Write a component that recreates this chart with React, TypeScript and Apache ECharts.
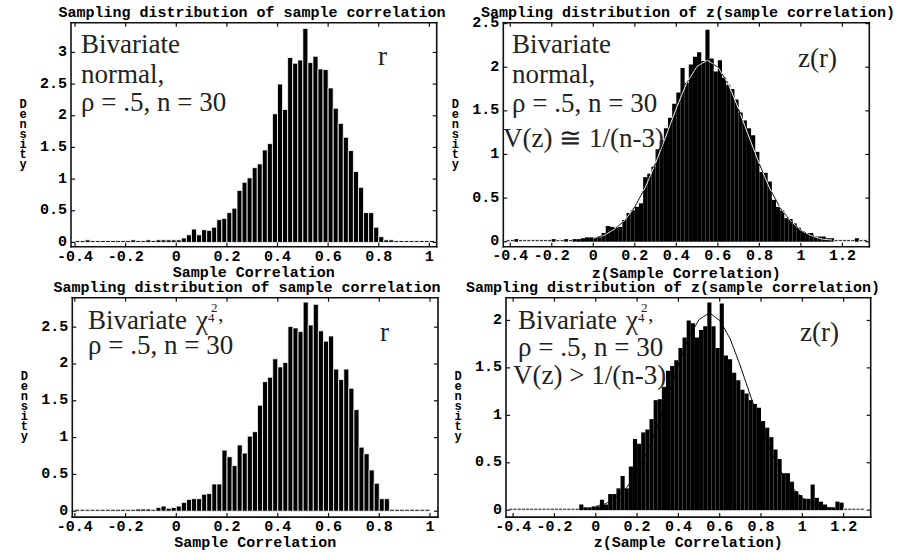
import React, { useEffect, useRef } from 'react';
import * as echarts from 'echarts';

// ---------- data (densities per bin of width 0.02) ----------
const BIN = 0.02;

// Panel 1: bivariate normal, r
const p1Start = -0.4;
const p1Density = [
  0.02, 0.0, 0.04, 0.02, 0.02, 0.02, 0.02, 0.02, 0.02, 0.02, 0.02, 0.04, 0.02, 0.02, 0.04,
  0.02, 0.04, 0.04, 0.04, 0.04, 0.04, 0.07, 0.12, 0.21, 0.12, 0.2, 0.19, 0.24, 0.36, 0.38, 0.47,
  0.54, 0.82, 0.95, 1.02, 1.18, 1.24, 1.46, 1.56, 2.03, 2.5, 2.1, 2.92, 2.83, 2.88, 3.38, 2.84,
  2.94, 2.74, 2.73, 2.44, 2.12, 1.88, 1.66, 1.45, 1.12, 0.87, 0.47, 0.47, 0.24, 0.09, 0.04, 0.04,
  0, 0, 0, 0, 0, 0, 0, 0,
];

// Panel 2: bivariate normal, z(r)
const p2Start = -0.42;
const p2Density = [
  0.01, 0.02, 0.03, 0.01, 0.01, 0.01, 0.01, 0.01, 0.01, 0.01, 0.01, 0.03, 0.01, 0.01, 0.03,
  0.02, 0.03, 0.03, 0.04, 0.05, 0.05, 0.05, 0.05, 0.1, 0.18, 0.17, 0.16, 0.17, 0.25, 0.33, 0.36,
  0.4, 0.44, 0.74, 0.78, 0.86, 1.06, 1.16, 1.3, 1.42, 1.58, 1.71, 1.99, 1.82, 2.03, 2.12, 2.17,
  2.07, 2.43, 2.1, 1.95, 2.08, 1.88, 1.8, 1.75, 1.63, 1.48, 1.39, 1.3, 1.22, 1.03, 0.8, 0.79,
  0.69, 0.48, 0.4, 0.36, 0.27, 0.26, 0.21, 0.16, 0.12, 0.1, 0.1, 0.06, 0.06, 0.06, 0.04, 0.04,
  0.02, 0.02, 0.02, 0.02, 0.01, 0.04, 0, 0,
];

// Panel 3: bivariate chi-square(4), r
const p3Start = -0.4;
const p3Density = [
  0, 0, 0, 0, 0, 0, 0, 0, 0, 0, 0, 0, 0.03, 0.03,
  0.03, 0.02, 0.05, 0.07, 0.04, 0.05, 0.07, 0.12, 0.16, 0.17, 0.17, 0.23, 0.24, 0.37, 0.37, 0.83,
  0.74, 0.62, 0.9, 0.79, 1.02, 1.08, 1.44, 1.76, 1.82, 2.07, 1.96, 2.02, 2.51, 2.49, 2.44, 2.84,
  2.53, 2.81, 2.45, 2.31, 2.38, 1.93, 1.79, 1.93, 1.67, 1.38, 0.87, 0.78, 0.56, 0.38, 0.17, 0.17,
  0.02, 0.02, 0, 0, 0, 0, 0, 0,
];

// Panel 4: bivariate chi-square(4), z(r)
const p4Start = -0.42;
const p4Density = [
  0, 0, 0, 0, 0, 0, 0, 0, 0, 0, 0, 0, 0.01, 0.02,
  0.02, 0.01, 0.01, 0.06, 0.03, 0.03, 0.04, 0.04, 0.11, 0.06, 0.17, 0.17, 0.23, 0.36, 0.23, 0.46,
  0.75, 0.7, 0.82, 0.85, 0.96, 1.16, 1.17, 1.3, 1.47, 1.52, 1.58, 1.71, 1.82, 2.0, 1.97, 1.82,
  1.9, 1.94, 2.19, 1.94, 1.71, 2.18, 1.63, 1.59, 1.45, 1.37, 1.27, 1.23, 1.16, 1.12, 1.08, 0.94,
  0.87, 0.77, 0.64, 0.54, 0.39, 0.39, 0.3, 0.2, 0.16, 0.12, 0.12, 0.27, 0.13, 0.09, 0.06, 0.03,
  0.03, 0.09, 0.08, 0.02, 0.02, 0.02, 0.01, 0.01,
];

// Overlaid reference density of z
const curveX = [0.0, 0.05, 0.1, 0.15, 0.2, 0.25, 0.3, 0.35, 0.4, 0.45, 0.5, 0.55, 0.6, 0.65, 0.7, 0.75, 0.8, 0.85, 0.9, 0.95, 1.0, 1.05, 1.1, 1.15];
const curveY = [0.04, 0.07, 0.14, 0.24, 0.4, 0.62, 0.9, 1.21, 1.53, 1.82, 2.01, 2.08, 2.0, 1.81, 1.52, 1.2, 0.89, 0.61, 0.39, 0.24, 0.13, 0.07, 0.03, 0.02];

// Tick values
const rTicks = [-0.4, -0.2, 0, 0.2, 0.4, 0.6, 0.8, 1];
const zTicks = [-0.4, -0.2, 0, 0.2, 0.4, 0.6, 0.8, 1, 1.2];
const yTicks1 = [0, 0.5, 1, 1.5, 2, 2.5, 3];
const yTicks2 = [0, 0.5, 1, 1.5, 2, 2.5];
const yTicks3 = [0, 0.5, 1, 1.5, 2, 2.5];
const yTicks4 = [0, 0.5, 1, 1.5, 2];

const titleR = 'Sampling distribution of sample correlation';
const titleZ = 'Sampling distribution of z(sample correlation)';
const nameR = 'Sample Correlation';
const nameZ = 'z(Sample Correlation)';
const yName = 'Density';

const MONO = "'Liberation Mono', 'DejaVu Sans Mono', monospace";
const SERIF = "'Liberation Serif', 'DejaVu Serif', serif";

const panels = [
  { grid: { left: 71, top: 22.7, width: 365.7, height: 224 }, xMin: -0.416, xMax: 1.029, yMin: -0.068, yMax: 3.47,
    xTicks: rTicks, yTicks: yTicks1, start: p1Start, bins: p1Density, xName: nameR, nameGap: 17, labelMargin: 3,
    title: titleR, titleX: 252, titleY: 6, curve: 'none', stroke: 0.8 },
  { grid: { left: 503.3, top: 22.7, width: 366, height: 224 }, xMin: -0.4335, xMax: 1.3295, yMin: -0.057, yMax: 2.51,
    xTicks: zTicks, yTicks: yTicks2, start: p2Start, bins: p2Density, xName: nameZ, nameGap: 20, labelMargin: 2,
    title: titleZ, titleX: 688, titleY: 6, curve: 'xor', stroke: 0 },
  { grid: { left: 72.3, top: 297.7, width: 365.7, height: 223.3 }, xMin: -0.41, xMax: 1.0315, yMin: -0.08, yMax: 2.9,
    xTicks: rTicks, yTicks: yTicks3, start: p3Start, bins: p3Density, xName: nameR, nameGap: 14, labelMargin: 3,
    title: titleR, titleX: 247, titleY: 281, curve: 'none', stroke: 0.8 },
  { grid: { left: 506, top: 297.7, width: 364.7, height: 222.6 }, xMin: -0.4346, xMax: 1.331, yMin: -0.073, yMax: 2.24,
    xTicks: zTicks, yTicks: yTicks4, start: p4Start, bins: p4Density, xName: nameZ, nameGap: 14, labelMargin: 3,
    title: titleZ, titleX: 673, titleY: 281, curve: 'under', stroke: 0 },
];

const fmt = (v: number) => {
  const r = Math.round(v * 10) / 10;
  return r === 0 ? '0' : String(r);
};

function serifText(text: string, x: number, baseline: number, size = 27): any {
  return {
    type: 'text', x, y: baseline - size * 0.34, silent: true, z: 10,
    style: { text, fill: '#222', font: `${size}px ${SERIF}`, textAlign: 'left', textVerticalAlign: 'middle', verticalAlign: 'middle' },
  };
}

function chiLabel(x0: number, baseline: number): any[] {
  return [
    serifText('Bivariate', x0, baseline),
    serifText('χ', x0 + 108, baseline),
    serifText('2', x0 + 123, baseline - 17, 13),
    serifText('4', x0 + 120, baseline - 7, 13),
    serifText(',', x0 + 130, baseline - 8, 22),
  ];
}

const annotations: any[] = [
  serifText('Bivariate', 81, 53),
  serifText('normal,', 81, 83),
  serifText('ρ = .5, n = 30', 81, 111),
  serifText('r', 378, 65),

  serifText('Bivariate', 512, 53),
  serifText('normal,', 512, 83),
  serifText('ρ = .5, n = 30', 512, 112),
  serifText('V(z) ≅ 1/(n-3)', 503, 147),
  serifText('z(r)', 798, 67),

  ...chiLabel(88, 329),
  serifText('ρ = .5, n = 30', 88, 354),
  serifText('r', 380, 341),

  ...chiLabel(518, 329),
  serifText('ρ = .5, n = 30', 518, 356),
  serifText('V(z) > 1/(n-3)', 513, 384),
  serifText('z(r)', 800, 341),
];

// frame and inward ticks as thin filled rectangles, positioned with the chart's own scales
function frameGraphics(chart: any): any[] {
  const els: any[] = [];
  panels.forEach((p, i) => {
    const finder = { xAxisIndex: i, yAxisIndex: i };
    const a = chart.convertToPixel(finder, [p.xMin, p.yMin]);
    const b = chart.convertToPixel(finder, [p.xMax, p.yMax]);
    if (!a || !b) return;
    const L = a[0], B = a[1], R = b[0], T = b[1];
    const w = 1.6, len = 4, tw = 1.2;
    const box = (x: number, y: number, width: number, height: number) => ({
      type: 'rect', silent: true, z: 20, shape: { x, y, width, height }, style: { fill: '#111' },
    });
    els.push(box(L - w / 2, T - w / 2, R - L + w, w));
    els.push(box(L - w / 2, B - w / 2, R - L + w, w));
    els.push(box(L - w / 2, T - w / 2, w, B - T + w));
    els.push(box(R - w / 2, T - w / 2, w, B - T + w));
    p.xTicks.forEach((v: number) => {
      const px = chart.convertToPixel(finder, [v, p.yMin])[0];
      els.push(box(px - tw / 2, B - len, tw, len));
      els.push(box(px - tw / 2, T, tw, len));
    });
    p.yTicks.forEach((v: number) => {
      const py = chart.convertToPixel(finder, [p.xMin, v])[1];
      els.push(box(L, py - tw / 2, len, tw));
      els.push(box(R - len, py - tw / 2, len, tw));
    });
  });
  return els;
}

function buildOption(): any {
  const grid: any[] = [];
  const xAxis: any[] = [];
  const yAxis: any[] = [];
  const series: any[] = [];
  const title: any[] = [];
  const monoStyle = { fontFamily: MONO, fontSize: 15, fontWeight: 'bold', color: '#000' };

  panels.forEach((p, i) => {
    grid.push({ ...p.grid, containLabel: false });
    const hidden = { show: false };
    xAxis.push({
      type: 'value', gridIndex: i, position: 'bottom', min: p.xMin, max: p.xMax,
      axisLine: hidden, axisTick: hidden, splitLine: hidden,
      axisLabel: { customValues: p.xTicks, formatter: fmt, margin: p.labelMargin, ...monoStyle },
      name: p.xName, nameLocation: 'middle', nameGap: p.nameGap,
      nameTextStyle: { ...monoStyle },
    });
    yAxis.push({
      type: 'value', gridIndex: i, position: 'left', min: p.yMin, max: p.yMax,
      axisLine: hidden, axisTick: hidden, splitLine: hidden,
      axisLabel: { customValues: p.yTicks, formatter: fmt, margin: 4, ...monoStyle },
      name: yName.split('').join('\n'), nameLocation: 'middle', nameRotate: 0, nameGap: 48,
      nameTextStyle: { fontFamily: MONO, fontSize: 12, fontWeight: 'bold', color: '#000', lineHeight: 10, align: 'center', verticalAlign: 'middle' },
    });

    const bins = p.bins;
    const start = p.start;
    const barData = bins.map((h, k) => [start + k * BIN, start + (k + 1) * BIN, h]);
    const stroke = p.stroke;
    series.push({
      type: 'custom', name: `histogram ${i + 1}`, xAxisIndex: i, yAxisIndex: i, clip: false, z: 2, silent: true,
      encode: { x: [0, 1], y: 2 },
      data: barData,
      renderItem: (_params: any, api: any) => {
        const a = api.coord([api.value(0), api.value(2)]);
        const b = api.coord([api.value(1), 0]);
        let top = a[1];
        const bottom = b[1];
        const tiny = bottom - top < 2;
        if (tiny) top = bottom - 2;
        return {
          type: 'rect',
          shape: { x: a[0], y: top, width: b[0] - a[0], height: bottom - top },
          style: { fill: '#000', stroke: '#fff', lineWidth: tiny ? 1 : stroke },
        };
      },
    });

    if (p.curve !== 'none') {
      const mode = p.curve;
      const barAt = (x: number) => {
        const k = Math.floor((x - start) / BIN + 1e-9);
        return k >= 0 && k < bins.length ? bins[k] : 0;
      };
      series.push({
        type: 'custom', name: `normal curve ${i + 1}`, xAxisIndex: i, yAxisIndex: i, clip: false,
        z: mode === 'under' ? 1 : 3, silent: true,
        encode: { x: 0, y: 1 },
        data: curveX.map((x, k) => [x, curveY[k]]),
        renderItem: (params: any, api: any) => {
          const k = params.dataIndex;
          if (k >= curveX.length - 1) return { type: 'group', children: [] };
          const xa = curveX[k], ya = curveY[k], xb = curveX[k + 1], yb = curveY[k + 1];
          const children: any[] = [];
          const N = 12;
          for (let s = 0; s < N; s++) {
            const t0 = s / N, t1 = (s + 1) / N;
            const x0 = xa + (xb - xa) * t0, y0 = ya + (yb - ya) * t0;
            const x1 = xa + (xb - xa) * t1, y1 = ya + (yb - ya) * t1;
            const inside = (y0 + y1) / 2 < barAt((x0 + x1) / 2);
            const p0 = api.coord([x0, y0]);
            const p1 = api.coord([x1, y1]);
            children.push({
              type: 'line',
              shape: { x1: p0[0], y1: p0[1], x2: p1[0], y2: p1[1] },
              style: { stroke: mode === 'xor' && inside ? '#fff' : '#000', lineWidth: 1 },
            });
          }
          return { type: 'group', children };
        },
      });
    }

    title.push({
      text: p.title, left: p.titleX, top: p.titleY, textAlign: 'center', padding: 0,
      textStyle: { ...monoStyle },
    });
  });

  return {
    animation: false,
    backgroundColor: '#fff',
    title, grid, xAxis, yAxis, series,
    graphic: annotations,
  };
}

export default function App() {
  const ref = useRef<HTMLDivElement>(null);
  useEffect(() => {
    document.body.style.margin = '0';
    if (!ref.current) return;
    const chart = echarts.init(ref.current, undefined, { renderer: 'svg' });
    chart.setOption(buildOption());
    try {
      const frames = frameGraphics(chart);
      chart.setOption({ graphic: [...annotations, ...frames] });
    } catch (e) {
      // leave the chart without frames if pixel conversion is unavailable
    }
    return () => chart.dispose();
  }, []);
  return <div ref={ref} style={{ width: 911, height: 552 }} />;
}
